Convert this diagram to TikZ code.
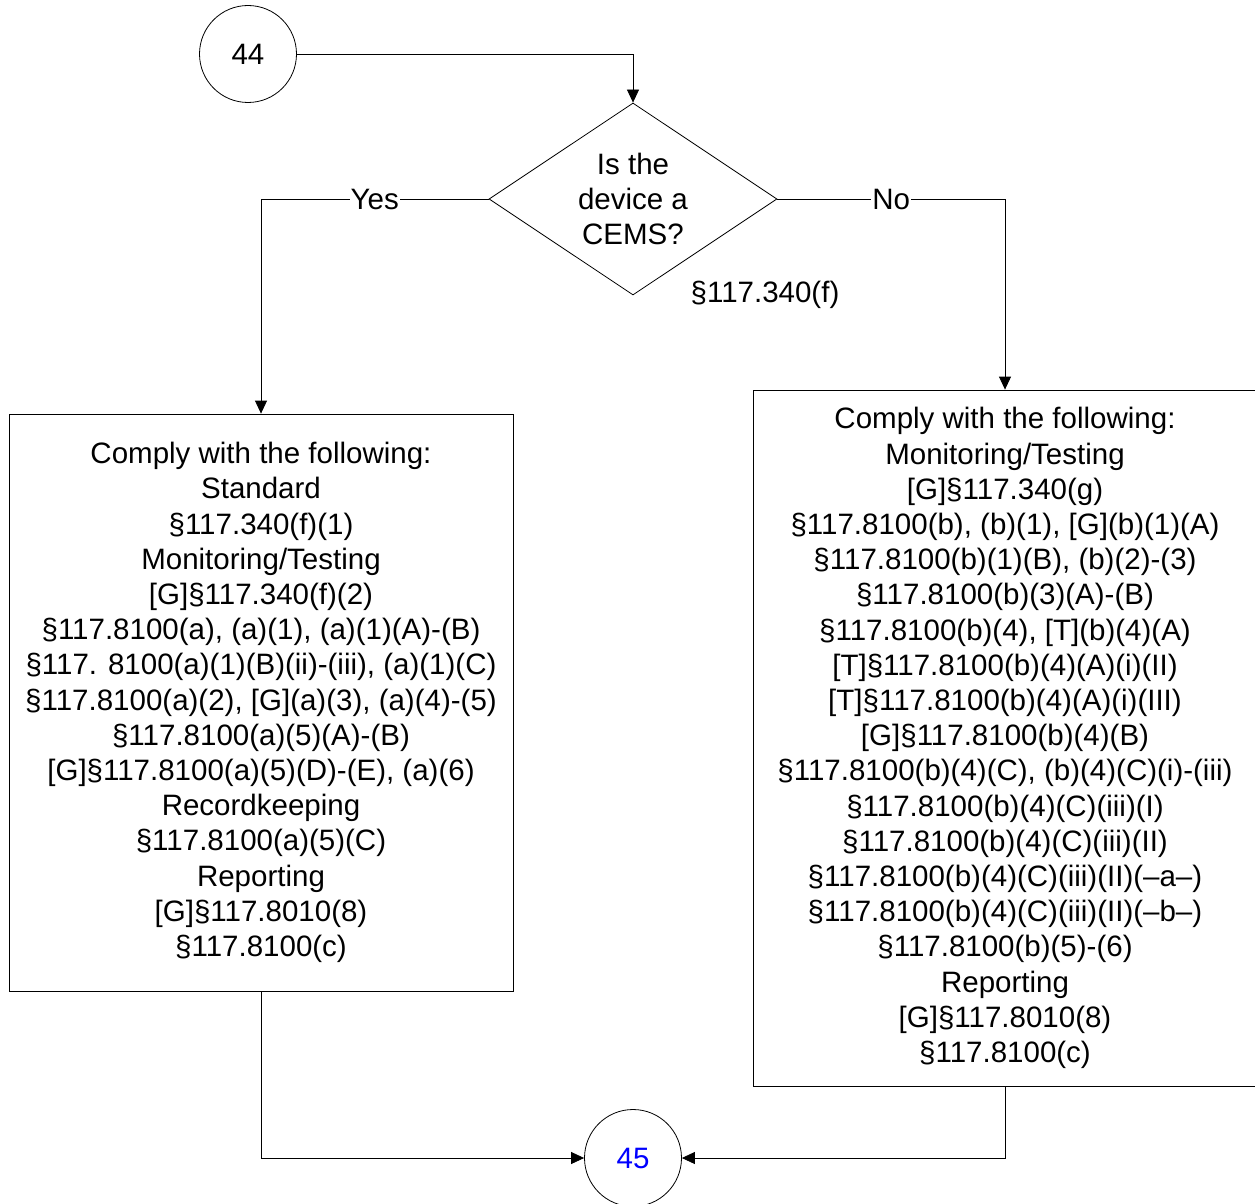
\documentclass[tikz,border=0pt]{standalone}
\usepackage{fontspec}
\setmainfont{Liberation Sans}
\usepackage{tikz}
\usetikzlibrary{shapes.geometric}
\usetikzlibrary{arrows.meta}

\begin{document}
\begin{tikzpicture}[x=1pt, y=-1pt, line width=0.8pt,
        every node/.style={font=\fontsize{29.5}{35.2}\selectfont},
        conn/.style={draw, circle, minimum size=97pt, inner sep=0pt},
        decision/.style={draw, diamond, aspect=1.5, minimum width=288pt, minimum height=192pt, inner sep=0pt, align=center},
        listbox/.style={draw, rectangle, minimum width=504pt, align=center, inner sep=0pt},
        flow/.style={-{Triangle[length=13pt, width=12pt]}}]
            \useasboundingbox (0,0) rectangle (1255,1204);
            % connectors and the question
            \node[conn] (c44) at (248,54) {44};
            \node[decision] (dec) at (633,199) {Is the\\device a\\CEMS?};
            \node (ref) at (765,295) {§117.340(f)};
            % the two lists
            \node[listbox, minimum height=577pt] (yesbox) at (261,702.5) {Comply with the following:\\Standard\\§117.340(f)(1)\\Monitoring/Testing\\{[G]}§117.340(f)(2)\\§117.8100(a), (a)(1), (a)(1)(A)-(B)\\§117. 8100(a)(1)(B)(ii)-(iii), (a)(1)(C)\\§117.8100(a)(2), [G](a)(3), (a)(4)-(5)\\§117.8100(a)(5)(A)-(B)\\{[G]}§117.8100(a)(5)(D)-(E), (a)(6)\\Recordkeeping\\§117.8100(a)(5)(C)\\Reporting\\{[G]}§117.8010(8)\\§117.8100(c)};
            \node[listbox, minimum height=696pt] (nobox) at (1005,738) {Comply with the following:\\Monitoring/Testing\\{[G]}§117.340(g)\\§117.8100(b), (b)(1), [G](b)(1)(A)\\§117.8100(b)(1)(B), (b)(2)-(3)\\§117.8100(b)(3)(A)-(B)\\§117.8100(b)(4), [T](b)(4)(A)\\{[T]}§117.8100(b)(4)(A)(i)(II)\\{[T]}§117.8100(b)(4)(A)(i)(III)\\{[G]}§117.8100(b)(4)(B)\\§117.8100(b)(4)(C), (b)(4)(C)(i)-(iii)\\§117.8100(b)(4)(C)(iii)(I)\\§117.8100(b)(4)(C)(iii)(II)\\§117.8100(b)(4)(C)(iii)(II)(–a–)\\§117.8100(b)(4)(C)(iii)(II)(–b–)\\§117.8100(b)(5)-(6)\\Reporting\\{[G]}§117.8010(8)\\§117.8100(c)};
            \node[conn, text=blue] (c45) at (633,1158) {45};
            % lines
            \draw[flow] (c44.east) -| (dec.north);
            \draw[flow] (dec.west) -| node[pos=0.25, fill=white, inner sep=1pt] (yes) {Yes} (yesbox.north);
            \draw[flow] (dec.east) -| node[pos=0.25, fill=white, inner sep=1pt] (no) {No} (nobox.north);
            \draw[flow] (yesbox.south) |- (c45.west);
            \draw[flow] (nobox.south) |- (c45.east);
        \end{tikzpicture}
\end{document}
